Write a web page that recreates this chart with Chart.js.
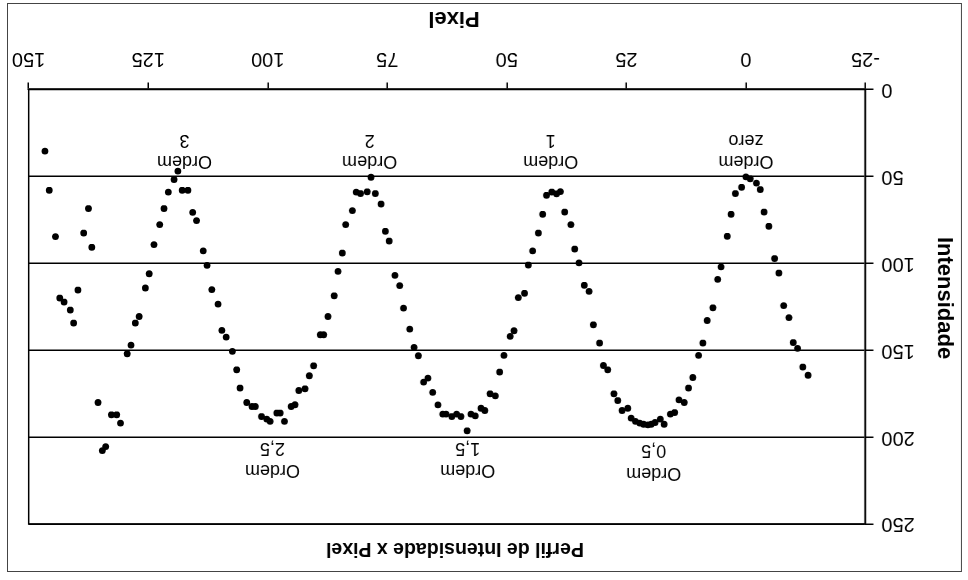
<!DOCTYPE html>
<html>
<head>
<meta charset="utf-8">
<script src="https://cdn.jsdelivr.net/npm/chart.js@4"></script>
<style>
  html, body { margin: 0; padding: 0; background: #fff; }
  /* the reference is photographed upside down, so the whole chart is turned 180deg */
  #wrap { width: 968px; height: 580px; transform: rotate(180deg); }
</style>
</head>
<body>
<div id="wrap"><canvas id="chart" width="968" height="580"></canvas></div>
<script>
// pixel position along the profile
const pixels = [-13.0,-11.9,-10.8,-9.9,-9.0,-7.9,-6.9,-6.0,-4.8,-3.8,-3.0,-2.2,-0.9,0.0,0.9,2.2,3.1,3.9,5.2,5.9,6.9,8.1,9.0,9.9,11.1,
  12.0,12.9,14.0,14.9,15.8,17.1,17.9,19.0,19.8,20.5,21.4,22.2,23.1,24.0,24.7,25.9,26.8,27.6,
  28.9,29.8,30.6,31.9,32.8,33.8,34.9,35.8,36.6,37.9,38.8,39.6,40.6,41.7,42.5,43.4,44.6,45.5,46.3,47.6,48.5,49.3,50.6,51.5,
  52.4,53.5,54.6,55.4,56.6,57.5,58.3,59.6,60.5,61.5,62.7,63.4,64.4,65.5,66.5,67.4,
  68.5,69.4,70.3,71.6,72.4,73.4,74.6,75.4,76.3,77.5,78.4,79.2,80.6,81.5,82.3,83.7,84.4,85.3,86.1,87.4,88.3,89.0,90.4,91.3,92.2,93.5,
  94.3,95.1,96.5,97.4,98.1,99.5,100.2,101.3,102.6,103.3,104.4,105.8,
  106.5,107.4,108.7,109.6,110.4,111.7,112.7,113.5,114.9,115.7,116.7,117.9,118.8,119.6,120.8,121.7,122.6,123.8,124.8,125.6,126.9,127.7,128.6,129.4,
  130.8,131.6,132.7,133.9,134.6,135.5,136.8,137.5,138.5,139.7,140.6,141.3,142.6,143.5,144.4,145.7,146.6];

// intensity read at each pixel
const intensity = [164.4,159.7,149.0,145.6,131.3,124.4,105.6,97.3,78.7,70.5,57.6,53.9,51.4,50.3,56.3,59.9,71.8,84.5,102.1,109.3,125.6,132.9,145.9,153.0,165.7,
  171.8,180.1,178.6,185.9,186.8,192.6,189.7,191.6,192.6,193.0,192.6,192.0,191.0,189.1,183.4,184.7,179.0,175.1,
  161.3,158.8,145.9,135.4,116.2,112.7,99.8,91.8,77.8,70.5,58.8,60.0,59.0,60.9,71.8,82.6,92.9,101.0,117.3,119.8,138.8,142.1,153.0,162.6,
  176.3,175.1,184.7,183.4,187.8,186.8,196.4,188.2,186.8,188.2,186.8,186.8,181.5,174.3,166.1,168.4,
  153.2,148.4,137.9,125.8,112.9,107.0,87.2,81.6,65.9,59.9,50.5,58.9,59.9,59.1,69.7,77.8,94.1,104.7,118.7,130.6,141.1,141.1,159.0,164.7,172.2,173.2,
  181.4,182.4,191.0,186.2,186.2,191.0,189.7,188.2,182.4,182.4,180.1,171.8,
  161.3,150.7,142.5,138.6,123.5,115.2,101.2,92.9,75.5,70.7,58.0,58.0,47.0,51.8,59.1,68.5,77.8,89.3,106.0,114.2,130.6,134.4,147.1,152.1,
  192.0,187.2,187.2,205.5,207.8,180.1,90.8,68.5,82.6,115.4,134.4,126.9,122.3,120.0,84.7,58.0,35.5];

// axis ticks
const xTicks = [-25, 0, 25, 50, 75, 100, 125, 150];
const yTicks = [0, 50, 100, 150, 200, 250];

// order labels: two lines each, anchored at a pixel / intensity
const orderLine1 = ["Ordem", "Ordem", "Ordem", "Ordem", "Ordem", "Ordem", "Ordem"];
const orderLine2 = ["zero", "1", "2", "3", "0,5", "1,5", "2,5"];
const orderX = [0, 40.8, 78.7, 117.4, 19.3, 58.2, 99];
const orderY1 = [41, 41, 41, 41, 220.5, 219, 219];
const orderY2 = [29, 29, 29, 29, 207.4, 206.4, 206.4];

const FONT = "'Liberation Sans', Arial, sans-serif";

const extras = {
  id: "extras",
  afterDatasetsDraw(chart) {
    const { ctx, chartArea: a, scales: { x, y } } = chart;
    ctx.save();
    // plot frame (top and right sides)
    ctx.strokeStyle = "#000";
    ctx.lineWidth = 1.5;
    ctx.strokeRect(a.left, a.top, a.right - a.left, a.bottom - a.top);

    // order labels
    ctx.fillStyle = "#000";
    ctx.font = "18px " + FONT;
    ctx.textAlign = "center";
    ctx.textBaseline = "middle";
    orderX.forEach((px, i) => {
      const cx = x.getPixelForValue(px);
      ctx.fillText(orderLine1[i], cx, y.getPixelForValue(orderY1[i]));
      ctx.fillText(orderLine2[i], cx, y.getPixelForValue(orderY2[i]));
    });
    ctx.restore();
  },
  afterDraw(chart) {
    const { ctx } = chart;
    ctx.save();
    // outer frame
    ctx.strokeStyle = "#444";
    ctx.lineWidth = 1;
    ctx.strokeRect(6.5, 8.5, 954, 568);

    ctx.fillStyle = "#000";
    ctx.textAlign = "center";
    ctx.textBaseline = "middle";
    ctx.font = "bold 19.5px " + FONT;
    ctx.fillText("Perfil de Intensidade x Pixel", 513, 32);
    ctx.font = "bold 22px " + FONT;
    ctx.fillText("Pixel", 514, 562);

    ctx.translate(24, 282);
    ctx.rotate(-Math.PI / 2);
    ctx.fillText("Intensidade", 0, 0);
    ctx.restore();
  }
};

new Chart(document.getElementById("chart"), {
  type: "scatter",
  data: {
    datasets: [{
      data: pixels.map((p, i) => ({ x: p, y: intensity[i] })),
      pointRadius: 3.4,
      pointBackgroundColor: "#000",
      pointBorderWidth: 0,
    }],
  },
  options: {
    responsive: false,
    animation: false,
    devicePixelRatio: 1,
    layout: { padding: { top: 56, right: 26.5, left: 0, bottom: 0 } },
    plugins: { legend: { display: false }, tooltip: { enabled: false } },
    scales: {
      x: {
        type: "linear",
        min: -25,
        max: 150,
        afterFit: (s) => { s.height = 89.5; },
        afterBuildTicks: (s) => { s.ticks = xTicks.map((v) => ({ value: v })); },
        grid: { drawOnChartArea: false, color: "#000", tickLength: 7, lineWidth: 1.5 },
        border: { color: "#000", width: 1.5 },
        ticks: { color: "#000", font: { family: FONT, size: 20 }, padding: 12, maxRotation: 0 },
      },
      y: {
        min: 0,
        max: 250,
        afterFit: (s) => { s.width = 102.5; },
        afterBuildTicks: (s) => { s.ticks = yTicks.map((v) => ({ value: v })); },
        grid: { color: "#000", tickLength: 8, lineWidth: 1.5 },
        border: { color: "#000", width: 1.5 },
        ticks: { color: "#000", font: { family: FONT, size: 20 }, padding: 8 },
      },
    },
  },
  plugins: [extras],
});
</script>
</body>
</html>
